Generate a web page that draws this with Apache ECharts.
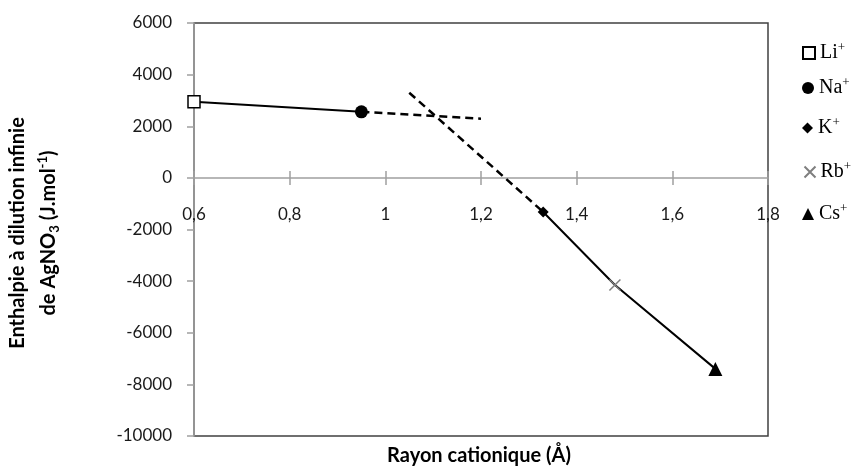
<!DOCTYPE html>
<html>
<head>
<meta charset="utf-8">
<script src="https://cdn.jsdelivr.net/npm/echarts@6/dist/echarts.min.js"></script>
<style>
html,body{margin:0;padding:0;background:#fff;}
#chart{width:856px;height:468px;}
</style>
</head>
<body>
<div id="chart"></div>
<script>
// ---- data ----
const ionNames = ['Li', 'Na', 'K', 'Rb', 'Cs'];
const ionRadius = [0.60, 0.95, 1.33, 1.48, 1.69];
const ionEnthalpy = [2950, 2560, -1320, -4150, -7400];
const dashNaX = [0.95, 1.20];
const dashNaY = [2560, 2290];
const dashKX = [1.05, 1.33];
const dashKY = [3300, -1320];
const xTickValues = [0.6, 0.8, 1.0, 1.2, 1.4, 1.6, 1.8];
const xTickLabels = ['0,6', '0,8', '1', '1,2', '1,4', '1,6', '1,8'];
const yTickLabels = ['-10000', '-8000', '-6000', '-4000', '-2000', '0', '2000', '4000', '6000'];
const xTitle = 'Rayon cationique (Å)';
const yTitleLine1 = 'Enthalpie à dilution infinie';

// ---- style ----
const crossPath = 'path://M0,0L10,10M10,0L0,10';
const symbols = ['rect', 'circle', 'diamond', crossPath, 'triangle'];
const symbolSizes = [12, 13, 11, 11, 14];
const fills = ['#ffffff', '#000000', '#000000', 'none', '#000000'];
const borders = ['#000000', '#000000', '#000000', '#7f7f7f', '#000000'];
const borderWidths = [1.5, 0, 0, 1.5, 0];
const legendTops = [36, 71, 111, 155, 197];
const labelFont = 'Lato';
const chartH = 468, gridTop = 23, gridBottom = 32;

const chart = echarts.init(document.getElementById('chart'));

function pair(xs, ys) { return xs.map((x, i) => [x, ys[i]]); }

const series = [];
series.push({
  type: 'line', name: 'lineLiNa', data: pair(ionRadius.slice(0, 2), ionEnthalpy.slice(0, 2)),
  showSymbol: false, lineStyle: { color: '#000', width: 2 }, silent: true, z: 3
});
series.push({
  type: 'line', name: 'lineKCs', data: pair(ionRadius.slice(2), ionEnthalpy.slice(2)),
  showSymbol: false, lineStyle: { color: '#000', width: 2 }, silent: true, z: 3
});
series.push({
  type: 'line', name: 'dashNa', data: pair(dashNaX, dashNaY),
  showSymbol: false, lineStyle: { color: '#000', width: 2.5, type: [8, 5] }, silent: true, z: 3
});
series.push({
  type: 'line', name: 'dashK', data: pair(dashKX, dashKY),
  showSymbol: false, lineStyle: { color: '#000', width: 2.5, type: [8, 5] }, silent: true, z: 3
});
ionNames.forEach((n, i) => {
  series.push({
    type: 'scatter', name: n, data: [[ionRadius[i], ionEnthalpy[i]]],
    symbol: symbols[i], symbolSize: symbolSizes[i],
    itemStyle: { color: fills[i], borderColor: borders[i], borderWidth: borderWidths[i], opacity: 1 },
    z: 5
  });
});

const legends = ionNames.map((n, i) => ({
  data: [n], orient: 'vertical', left: 797, top: legendTops[i],
  itemWidth: Math.min(12, symbolSizes[i]), itemHeight: Math.min(12, symbolSizes[i]),
  selectedMode: false,
  formatter: name => '{n|' + name + '}{s|+}',
  textStyle: {
    color: '#000',
    rich: {
      n: { fontFamily: 'Liberation Serif', fontSize: 20, lineHeight: 24, color: '#000' },
      s: { fontFamily: 'Liberation Serif', fontSize: 13, lineHeight: 13, verticalAlign: 'top', color: '#000' }
    }
  }
}));

const xAxisCommon = {
  type: 'value', min: 0.6, max: 1.8, interval: 0.2,
  splitLine: { show: false }
};

const option = {
  animation: false,
  backgroundColor: '#fff',
  grid: {
    left: 194, right: 88, top: gridTop, bottom: gridBottom,
    outerBoundsMode: 'none', containLabel: false,
    show: true, borderColor: '#404040', borderWidth: 1.5, backgroundColor: 'transparent'
  },
  legend: legends,
  xAxis: [
    Object.assign({}, xAxisCommon, {
      position: 'bottom', offset: 0,
      axisLine: { show: true, onZero: false, lineStyle: { color: '#a0a0a0', width: 1.5 } },
      axisTick: { show: true, inside: false, length: 7, lineStyle: { color: '#a0a0a0', width: 1.5 } },
      axisLabel: {
        margin: 28, fontFamily: labelFont, fontSize: 17, color: '#1a1a1a',
        formatter: v => {
          const idx = xTickValues.findIndex(t => Math.abs(t - v) < 1e-6);
          return idx >= 0 ? xTickLabels[idx] : '';
        }
      },
      z: 2
    }),
    Object.assign({}, xAxisCommon, {
      position: 'top', offset: 0,
      axisLine: { show: false, onZero: false },
      axisTick: { show: true, inside: false, length: 7, lineStyle: { color: '#a0a0a0', width: 1.5 } },
      axisLabel: { show: false },
      z: 2
    })
  ],
  yAxis: {
    type: 'value', min: -10000, max: 6000, interval: 2000,
    splitLine: { show: false },
    axisLine: { show: true, onZero: false, lineStyle: { color: '#a0a0a0', width: 1.5 } },
    axisTick: { show: true, inside: false, length: 7, lineStyle: { color: '#a0a0a0', width: 1.5 } },
    axisLabel: {
      margin: 22, fontFamily: labelFont, fontSize: 17, color: '#1a1a1a',
      formatter: v => {
        const idx = Math.round((v + 10000) / 2000);
        return yTickLabels[idx] !== undefined ? yTickLabels[idx] : '';
      }
    },
    z: 2
  },
  graphic: [
    {
      type: 'text', x: 33, y: 233, rotation: Math.PI / 2,
      style: {
        text: '{b|' + yTitleLine1 + '}\n{b|de AgNO}{sub|3}{b| (J.mol}{sup|-1}{b|)}',
        align: 'center', verticalAlign: 'middle',
        rich: {
          b: { fontFamily: labelFont, fontWeight: 'bold', fontSize: 20, lineHeight: 31, fill: '#000', verticalAlign: 'middle' },
          sub: { fontFamily: labelFont, fontWeight: 'bold', fontSize: 13, lineHeight: 31, fill: '#000', verticalAlign: 'bottom', padding: [0, 0, 3, 0] },
          sup: { fontFamily: labelFont, fontWeight: 'bold', fontSize: 13, lineHeight: 31, fill: '#000', verticalAlign: 'top', padding: [3, 0, 0, 0] }
        }
      }
    },
    {
      type: 'text', x: 479, y: 456,
      style: {
        text: xTitle, align: 'center', verticalAlign: 'middle',
        fontFamily: labelFont, fontWeight: 'bold', fontSize: 20, fill: '#000'
      }
    }
  ],
  series: series
};

chart.setOption(option);
// move both x axes onto the y = 0 line: outward (down) ticks + labels, and upward ticks -> cross ticks
const zeroY = chart.convertToPixel({ yAxisIndex: 0 }, 0);
const gridBottomY = chartH - gridBottom;
chart.setOption({ xAxis: [{ offset: -(gridBottomY - zeroY) }, { offset: -(zeroY - gridTop) }] });
</script>
</body>
</html>
